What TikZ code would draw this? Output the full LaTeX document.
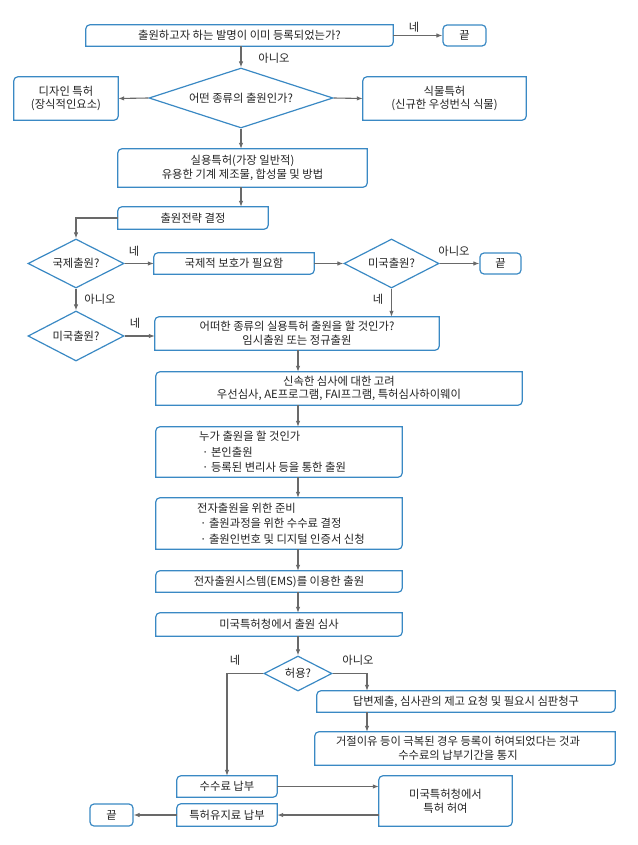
\documentclass[tikz,border=0pt]{standalone}
\usepackage{fontspec}
\setmainfont{Noto Sans CJK KR}
\usetikzlibrary{arrows.meta,shapes.geometric,calc}
\definecolor{boxblue}{RGB}{58,137,196}
\definecolor{linegray}{RGB}{105,105,105}
\definecolor{txtgray}{RGB}{35,35,35}
\newcommand\pboxoutline[1]{\draw[boxline] (#1.south west) -- ([yshift=-4pt]#1.north west) arc[start angle=180,end angle=90,radius=4pt] -- (#1.north east) -- ([yshift=4pt]#1.south east) arc[start angle=0,end angle=-90,radius=4pt] -- cycle;}
\tikzset{
  boxline/.style={draw=boxblue, line width=1.2pt},
  pb/.style={rectangle, inner sep=0pt, align=center, text=txtgray, font=\fontsize{11.3}{13.7}\selectfont},
  endbox/.style={pb, draw=boxblue, line width=1.2pt, rounded corners=4pt},
  dia/.style={diamond, draw=boxblue, line width=1.2pt, inner sep=0pt, aspect=2, text=txtgray, font=\fontsize{11.3}{13.7}\selectfont},
  conn/.style={draw=linegray, line width=1.1pt, -{Latex[length=6pt,width=4.5pt]}},
  lbl/.style={text=txtgray, inner sep=0pt, font=\fontsize{11.3}{13.7}\selectfont},
  bl/.style={lbl, align=left, anchor=west, font=\fontsize{11.3}{15.3}\selectfont}
}
\begin{document}
\begin{tikzpicture}[x=1pt,y=-1pt]
\fill[white] (0,0) rectangle (637,845);
\useasboundingbox (0,0) rectangle (637,845);

% nodes
\node[pb, minimum width=307pt, minimum height=21pt] (b1) at (239.5,35.5) {출원하고자 하는 발명이 이미 등록되었는가?};
\pboxoutline{b1}
\node[endbox, minimum width=43pt, minimum height=21pt] (end1) at (464.5,35.5) {끝};
\node[dia, aspect=3, minimum width=184pt, minimum height=60pt] (d1) at (241,98) {어떤 종류의 출원인가?};
\node[pb, minimum width=104pt, minimum height=43pt] (design) at (66,98.5) {디자인 특허\\(장식적인요소)};
\pboxoutline{design}
\node[pb, minimum width=163pt, minimum height=43pt] (plant) at (444.5,98.5) {식물특허\\(신규한 우성번식 식물)};
\pboxoutline{plant}
\node[pb, minimum width=249pt, minimum height=38pt] (util) at (242.5,168) {실용특허(가장 일반적)\\유용한 기계 제조물, 합성물 및 방법};
\pboxoutline{util}
\node[pb, minimum width=150pt, minimum height=22pt] (strat) at (193,218) {출원전략 결정};
\pboxoutline{strat}
\node[dia, minimum width=96pt, minimum height=49pt] (intl) at (76,263.5) {국제출원?};
\node[pb, minimum width=160pt, minimum height=21pt] (prot) at (234,263.5) {국제적 보호가 필요함};
\pboxoutline{prot}
\node[dia, minimum width=95pt, minimum height=49pt] (usr) at (391.5,263.5) {미국출원?};
\node[endbox, minimum width=41pt, minimum height=21pt] (end2) at (500.5,263.5) {끝};
\node[dia, minimum width=96pt, minimum height=50pt] (usl) at (76,336) {미국출원?};
\node[pb, minimum width=284pt, minimum height=33pt] (which) at (297,333.5) {어떠한 종류의 실용특허 출원을 할 것인가?\\임시출원 또는 정규출원};
\pboxoutline{which}
\node[pb, minimum width=366pt, minimum height=33pt] (fast) at (339,388.5) {신속한 심사에 대한 고려\\우선심사, AE프로그램, FAI프그램, 특허심사하이웨이};
\pboxoutline{fast}
\node[pb, minimum width=246pt, minimum height=50pt] (who) at (279,452) {};
\pboxoutline{who}
\node[bl] (whotxt) at (199,452) {누가 출원을 할 것인가\\\hspace{3pt}· 본인출원\\\hspace{3pt}· 등록된 변리사 등을 통한 출원};
\node[pb, minimum width=246pt, minimum height=51pt] (prep) at (279,523.5) {};
\pboxoutline{prep}
\node[bl] (preptxt) at (197,523.5) {전자출원을 위한 준비\\\hspace{3pt}· 출원과정을 위한 수수료 결정\\\hspace{3pt}· 출원인번호 및 디지털 인증서 신청};
\node[pb, minimum width=246pt, minimum height=21pt] (ems) at (279,581.5) {전자출원시스템(EMS)를 이용한 출원};
\pboxoutline{ems}
\node[pb, minimum width=246pt, minimum height=23pt] (exam) at (279,624.5) {미국특허청에서 출원 심사};
\pboxoutline{exam}
\node[dia, minimum width=68pt, minimum height=35pt] (allow) at (298,673.5) {허용?};
\node[pb, minimum width=298pt, minimum height=21pt] (reply) at (466,701.5) {답변제출, 심사관의 제고 요청 및 필요시 심판청구};
\pboxoutline{reply}
\node[pb, minimum width=300pt, minimum height=33pt] (reject) at (465,748.5) {};
\pboxoutline{reject}
\node[lbl, align=center] (rejecttxt) at (458,748.5) {거절이유 등이 극복된 경우 등록이 허여되었다는 것과\\수수료의 납부기간을 통지};
\node[pb, minimum width=100pt, minimum height=21pt] (fee) at (227,786.5) {수수료 납부};
\pboxoutline{fee}
\node[pb, minimum width=133pt, minimum height=50pt] (grant) at (445.5,801) {미국특허청에서\\특허 허여};
\pboxoutline{grant}
\node[pb, minimum width=100pt, minimum height=22pt] (maint) at (227,815) {특허유지료 납부};
\pboxoutline{maint}
\node[endbox, minimum width=43pt, minimum height=22pt] (end3) at (111.5,815) {끝};

% helper columns
\coordinate (colx) at (298,0);
\coordinate (coly) at (367,0);

% connectors
\draw[conn] (b1.east) -- (end1.west);
\draw[conn] (b1.south -| d1.north) -- (d1.north);
\draw[conn] (d1.west) -- (design.east);
\draw[conn] (d1.east) -- (plant.west);
\draw[conn] (d1.south) -- (d1.south |- util.north);
\draw[conn] (util.south -| d1.south) -- (strat.north -| d1.south);
\draw[conn] (strat.west) -| (intl.north);
\draw[conn] (intl.east) -- (prot.west);
\draw[conn] (prot.east) -- (usr.west);
\draw[conn] (usr.east) -- (end2.west);
\draw[conn] (usr.south) -- (usr.south |- which.north);
\draw[conn] (intl.south) -- (usl.north);
\draw[conn] (usl.east) -- (usl.east -| which.west);
\draw[conn] (which.south -| colx) -- (fast.north -| colx);
\draw[conn] (fast.south -| colx) -- (who.north -| colx);
\draw[conn] (who.south -| colx) -- (prep.north -| colx);
\draw[conn] (prep.south -| colx) -- (ems.north -| colx);
\draw[conn] (ems.south -| colx) -- (exam.north -| colx);
\draw[conn] (exam.south -| colx) -- (allow.north);
\draw[conn] (allow.west) -| (fee.north);
\draw[conn] (allow.east) -| (coly |- reply.north);
\draw[conn] (coly |- reply.south) -- (coly |- reject.north);
\draw[conn] (fee.east) -- (fee.east -| grant.west);
\draw[conn] (grant.west |- maint.east) -- (maint.east);
\draw[conn] (maint.west) -- (end3.east);

% labels
\node[lbl] (l1) at (414,27) {네};
\node[lbl] (l2) at (274,58) {아니오};
\node[lbl] (l3) at (134,251) {네};
\node[lbl] (l4) at (454,251) {아니오};
\node[lbl] (l5) at (378,299) {네};
\node[lbl] (l6) at (100,299) {아니오};
\node[lbl] (l7) at (135,323) {네};
\node[lbl] (l8) at (235,660) {네};
\node[lbl] (l9) at (358,660) {아니오};
\end{tikzpicture}
\end{document}
